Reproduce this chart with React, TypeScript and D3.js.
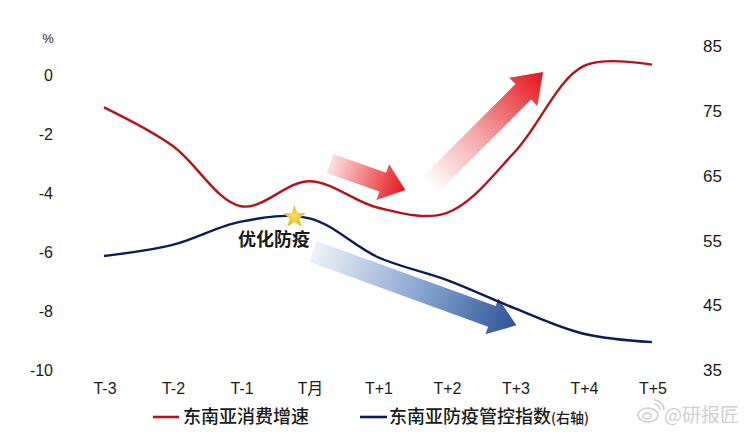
import React from "react";
import * as d3 from "d3";

const categories = ["T-3", "T-2", "T-1", "T月", "T+1", "T+2", "T+3", "T+4", "T+5"];
const consumption = [-1.1, -2.4, -4.45, -3.6, -4.5, -4.68, -2.6, 0.3, 0.35];
const controlIndex = [52.6, 54.3, 57.9, 58.4, 52.4, 48.9, 44.5, 40.6, 39.3];
const leftTicks = [0, -2, -4, -6, -8, -10];
const rightTicks = [85, 75, 65, 55, 45, 35];

const W = 754;
const H = 435;
const RED = "#b3141c";
const BLUE = "#0c1b58";
const NUM_FONT = "'Liberation Sans', Arial, sans-serif";
const CJK_FONT = "'Noto Sans CJK SC', 'Noto Sans', sans-serif";

const x = d3.scaleLinear().domain([0, categories.length - 1]).range([104, 652]);
const yL = d3.scaleLinear().domain([-10, 0]).range([370, 75]);
const yR = d3.scaleLinear().domain([35, 85]).range([370, 46]);

function arrowPath(tail: [number, number], tip: [number, number], shaft: number, headW: number, headL: number) {
  const dx = tip[0] - tail[0];
  const dy = tip[1] - tail[1];
  const len = Math.hypot(dx, dy);
  const ux = dx / len, uy = dy / len;
  const nx = -uy, ny = ux;
  const bx = tip[0] - ux * headL, by = tip[1] - uy * headL;
  const pts: [number, number][] = [
    [tail[0] + nx * shaft / 2, tail[1] + ny * shaft / 2],
    [bx + nx * shaft / 2, by + ny * shaft / 2],
    [bx + nx * headW / 2, by + ny * headW / 2],
    [tip[0], tip[1]],
    [bx - nx * headW / 2, by - ny * headW / 2],
    [bx - nx * shaft / 2, by - ny * shaft / 2],
    [tail[0] - nx * shaft / 2, tail[1] - ny * shaft / 2],
  ];
  return "M" + pts.map((p) => p.join(",")).join("L") + "Z";
}

function starPath(cx: number, cy: number, R: number, r: number) {
  const pts: string[] = [];
  for (let i = 0; i < 10; i++) {
    const rad = i % 2 === 0 ? R : r;
    const a = -Math.PI / 2 + (i * Math.PI) / 5;
    pts.push(`${cx + rad * Math.cos(a)},${cy + rad * Math.sin(a)}`);
  }
  return "M" + pts.join("L") + "Z";
}

export default function App() {
  const curve = d3.curveCatmullRom.alpha(0.5);
  const redLine = d3
    .line<number>()
    .x((_, i) => x(i))
    .y((d) => yL(d))
    .curve(curve)(consumption) as string;
  const blueLine = d3
    .line<number>()
    .x((_, i) => x(i))
    .y((d) => yR(d))
    .curve(curve)(controlIndex) as string;

  // annotation arrows, positioned in data space
  const a1Tail: [number, number] = [x(3.3), yL(-3.0)];
  const a1Tip: [number, number] = [x(4.4), yL(-3.9)];
  const a2Tail: [number, number] = [x(4.75), yL(-3.75)];
  const a2Tip: [number, number] = [x(6.41), yL(0.1)];
  const a3Tail: [number, number] = [x(3.05), yR(53.3)];
  const a3Tip: [number, number] = [x(6.02), yR(41.9)];
  const starX = x(2.78);
  const starY = yR(58.6);

  return (
    <svg width={W} height={H} style={{ position: "absolute", left: 0, top: 0, background: "#fff" }}>
      <defs>
        <linearGradient id="g1" gradientUnits="userSpaceOnUse" x1={a1Tail[0]} y1={a1Tail[1]} x2={a1Tip[0]} y2={a1Tip[1]}>
          <stop offset="0" stopColor="#fde3e3" />
          <stop offset="0.5" stopColor="#f27a7c" />
          <stop offset="1" stopColor="#e5141b" />
        </linearGradient>
        <linearGradient id="g2" gradientUnits="userSpaceOnUse" x1={a2Tail[0]} y1={a2Tail[1]} x2={a2Tip[0]} y2={a2Tip[1]}>
          <stop offset="0" stopColor="#ffffff" />
          <stop offset="0.45" stopColor="#f4a3a5" />
          <stop offset="1" stopColor="#e3141b" />
        </linearGradient>
        <linearGradient id="g3" gradientUnits="userSpaceOnUse" x1={a3Tail[0]} y1={a3Tail[1]} x2={a3Tip[0]} y2={a3Tip[1]}>
          <stop offset="0" stopColor="#eef2f9" />
          <stop offset="0.5" stopColor="#8eaad3" />
          <stop offset="1" stopColor="#2d5597" />
        </linearGradient>
        <radialGradient id="gs" cx="0.5" cy="0.5" r="0.6">
          <stop offset="0" stopColor="#ffe15a" />
          <stop offset="1" stopColor="#eaa80c" />
        </radialGradient>
      </defs>

      {/* arrows */}
      <path d={arrowPath(a3Tail, a3Tip, 22, 38, 26)} fill="url(#g3)" />
      <path d={arrowPath(a1Tail, a1Tip, 20, 38, 24)} fill="url(#g1)" />
      <path d={arrowPath(a2Tail, a2Tip, 22, 40, 28)} fill="url(#g2)" />

      {/* lines */}
      <path d={redLine} fill="none" stroke={RED} strokeWidth={2.4} />
      <path d={blueLine} fill="none" stroke={BLUE} strokeWidth={2.4} />

      {/* star + annotation */}
      <path d={starPath(starX, starY, 12, 5)} fill="url(#gs)" />
      <text x={274} y={246} textAnchor="middle" fontFamily={CJK_FONT} fontWeight={700} fontSize={18} fill="#1a1a1a">
        优化防疫
      </text>

      {/* left axis */}
      <text x={48} y={43} textAnchor="middle" fontFamily={NUM_FONT} fontSize={13} fill="#1a1a1a">%</text>
      {leftTicks.map((t) => (
        <text key={t} x={53} y={yL(t)} dy="0.36em" textAnchor="end" fontFamily={NUM_FONT} fontSize={16} fill="#1a1a1a">
          {t}
        </text>
      ))}

      {/* right axis */}
      {rightTicks.map((t) => (
        <text key={t} x={703} y={yR(t)} dy="0.36em" textAnchor="start" fontFamily={NUM_FONT} fontSize={17} fill="#1a1a1a">
          {t}
        </text>
      ))}

      {/* x axis labels */}
      {categories.map((c, i) => (
        <text key={c} x={x(i) + 1} y={388} dy="0.36em" textAnchor="middle" fontFamily={c === "T月" ? CJK_FONT : NUM_FONT} fontSize={16} fill="#1a1a1a">
          {c}
        </text>
      ))}

      {/* legend */}
      <line x1={153} x2={179} y1={417} y2={417} stroke={RED} strokeWidth={2.6} />
      <text x={183} y={417} dy="0.36em" fontFamily={CJK_FONT} fontWeight={500} fontSize={18} fill="#1a1a1a">东南亚消费增速</text>
      <line x1={360} x2={387} y1={417} y2={417} stroke={BLUE} strokeWidth={2.6} />
      <text x={389} y={417} dy="0.36em" fontFamily={CJK_FONT} fontWeight={500} fontSize={18} fill="#1a1a1a">
        东南亚防疫管控指数<tspan fontSize={14}>(右轴)</tspan>
      </text>

      {/* watermark */}
      <g fill="none" stroke="#cfcfcf" strokeWidth={1.6}>
        <ellipse cx={648} cy={415} rx={10} ry={7} />
        <ellipse cx={647} cy={416} rx={4} ry={3} />
        <path d="M654,404 a6,6 0 0 1 6,6" />
        <path d="M654,400 a10,10 0 0 1 10,10" />
      </g>
      <text x={664} y={415} dy="0.36em" fontFamily={CJK_FONT} fontSize={19} fill="#cfcfcf">@研报匠</text>
    </svg>
  );
}
